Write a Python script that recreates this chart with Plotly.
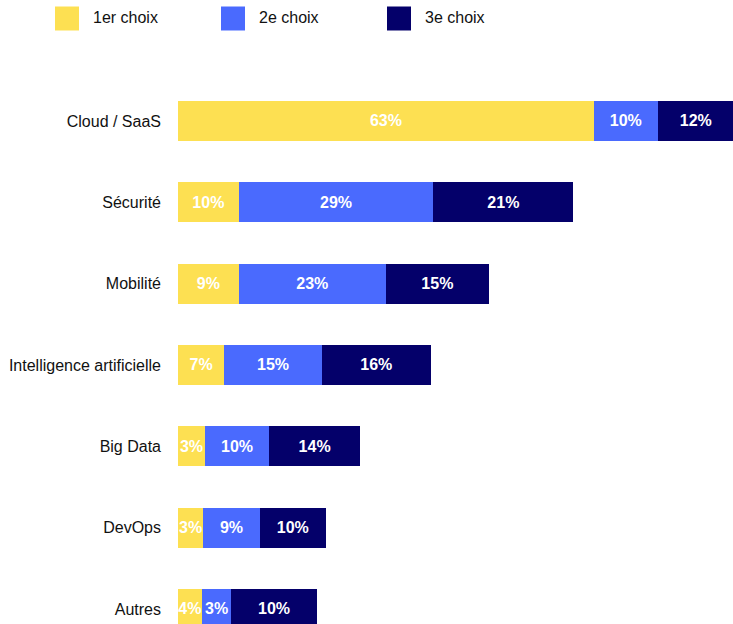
import plotly.graph_objects as go

categories = ["Cloud / SaaS", "Sécurité", "Mobilité", "Intelligence artificielle",
              "Big Data", "DevOps", "Autres"]
series_names = ["1er choix", "2e choix", "3e choix"]
colors = ["#FDE052", "#4A6AFE", "#04006A"]

# bar lengths (%)
choix1 = [63.0, 9.2, 9.2, 7.0, 4.1, 3.8, 3.6]
choix2 = [9.7, 29.5, 22.3, 14.8, 9.7, 8.6, 4.5]
choix3 = [11.5, 21.2, 15.6, 16.5, 13.8, 10.0, 12.9]
# labels as printed on the bars
labels1 = ["63%", "10%", "9%", "7%", "3%", "3%", "4%"]
labels2 = ["10%", "29%", "23%", "15%", "10%", "9%", "3%"]
labels3 = ["12%", "21%", "15%", "16%", "14%", "10%", "10%"]

W, H = 733, 624
L, R, T, B = 178, 0, 60, 0
pw, ph = W - L - R, H - T - B

fig = go.Figure()
for name, col, vals, labs in zip(series_names, colors,
                                 [choix1, choix2, choix3],
                                 [labels1, labels2, labels3]):
    fig.add_trace(go.Bar(
        y=categories, x=vals, name=name, orientation="h",
        marker=dict(color=col, line=dict(width=0)),
        text=labs, textposition="inside", insidetextanchor="middle",
        textangle=0,
        textfont=dict(family="Liberation Sans", size=16, color="white", weight="bold"),
        width=0.49, showlegend=False, hoverinfo="skip",
    ))

# legend drawn above the plot (swatch + label per series)
def px2paper_x(px):
    return (px - L) / pw

def px2paper_y(py):
    return (H - B - py) / ph

legend_x = [55, 221, 387]
for x0, name, col in zip(legend_x, series_names, colors):
    fig.add_shape(type="rect", xref="paper", yref="paper",
                  x0=px2paper_x(x0), x1=px2paper_x(x0 + 24),
                  y0=px2paper_y(30.5), y1=px2paper_y(6.5),
                  fillcolor=col, line=dict(width=0))
    fig.add_annotation(xref="paper", yref="paper",
                       x=px2paper_x(x0 + 36), y=px2paper_y(18),
                       xanchor="left", yanchor="middle", showarrow=False,
                       text=name,
                       font=dict(family="Liberation Sans", size=16, color="#111111"))

fig.update_layout(
    width=W, height=H,
    margin=dict(l=L, r=R, t=T, b=B, pad=0),
    barmode="stack",
    plot_bgcolor="white", paper_bgcolor="white",
    uniformtext=dict(minsize=16, mode="show"),
    font=dict(family="Liberation Sans", size=16, color="#111111"),
    xaxis=dict(range=[0, pw / 6.6], visible=False, showgrid=False, zeroline=False),
    yaxis=dict(type="category", categoryorder="array", categoryarray=categories,
               range=[6.185, -0.75], showgrid=False, zeroline=False, showline=False,
               ticks="", ticklabelstandoff=16,
               tickfont=dict(family="Liberation Sans", size=16, color="#111111")),
)

fig.write_html("out.html",
               config={"displayModeBar": False, "staticPlot": True},
               post_script="document.body.style.margin='0';document.body.style.overflow='hidden';")
